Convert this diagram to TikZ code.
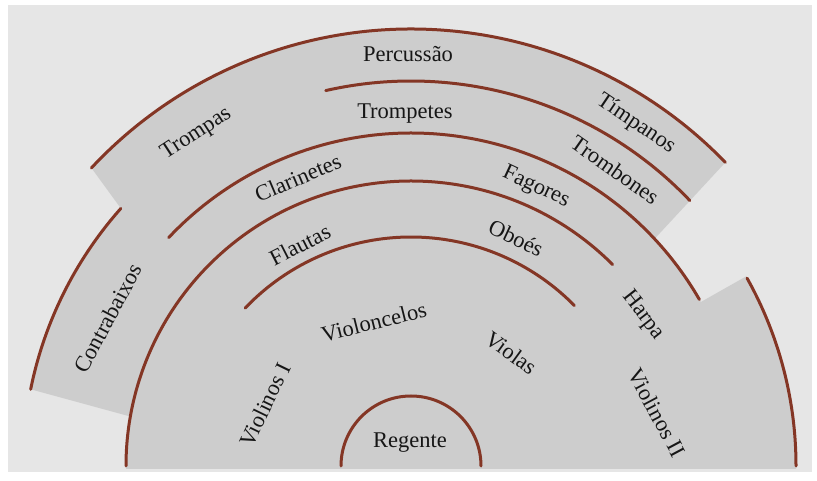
\documentclass[tikz,border=0pt]{standalone}
\usepackage{fontspec}
\setmainfont{Liberation Serif}
\definecolor{bgc}{HTML}{E6E6E6}
\definecolor{shapec}{HTML}{CDCDCD}
\definecolor{linec}{HTML}{843625}
\definecolor{txtc}{HTML}{161616}
\begin{document}
\begin{tikzpicture}[x=1pt,y=1pt,
  sep/.style={draw=linec,line width=3pt,line cap=round},
  lab/.style={text=txtc,font=\fontsize{22.5}{26}\selectfont,inner sep=0pt,text height=15pt,text depth=0pt}]
\useasboundingbox (0,0) rectangle (817,481);
\fill[white] (0,0) rectangle (817,481);
\fill[bgc] (8,9) rectangle (812,476);
\begin{scope}[shift={(411,15)}]
\fill[shapec] (-285,-3) -- (385,-3) -- (0:385) arc[start angle=0,end angle=29.5,radius=385]
  -- (29.5:333) arc[start angle=29.5,end angle=43,radius=333]
  -- (44:437) arc[start angle=44,end angle=137,radius=437]
  -- (138.4:388) arc[start angle=138.4,end angle=168.6,radius=388]
  -- (170:285) arc[start angle=170,end angle=180,radius=285] -- cycle;
\draw[sep] (44:437) arc[start angle=44,end angle=137,radius=437];
\draw[sep] (43.6:385) arc[start angle=43.6,end angle=102.8,radius=385];
\draw[sep] (30:333) arc[start angle=30,end angle=136.7,radius=333];
\draw[sep] (45:285) arc[start angle=45,end angle=180,radius=285];
\draw[sep] (44.5:229) arc[start angle=44.5,end angle=136.4,radius=229];
\draw[sep] (0:70) arc[start angle=0,end angle=180,radius=70];
\draw[sep] (0:385) arc[start angle=0,end angle=29.2,radius=385];
\draw[sep] (138.4:388) arc[start angle=138.4,end angle=168.6,radius=388];
\end{scope}
\node[lab] (perc) at (408,427) {Percussão};
\node[lab] (trompetes) at (405,369.5) {Trompetes};
\node[lab,rotate=33] (trompas) at (195,349) {Trompas};
\node[lab,rotate=23] (clarinetes) at (298,303) {Clarinetes};
\node[lab,rotate=27] (flautas) at (300,236) {Flautas};
\node[lab,rotate=-25] (fagores) at (537,296) {Fagores};
\node[lab,rotate=-34] (timpanos) at (637,359) {Tímpanos};
\node[lab,rotate=-35] (trombones) at (615,311) {Trombones};
\node[lab,rotate=-25] (oboes) at (516,243) {Oboés};
\node[lab,rotate=14] (violoncelos) at (374,159) {Violoncelos};
\node[lab,rotate=-36] (violas) at (511,128) {Violas};
\node[lab,rotate=-52] (harpa) at (645,167) {Harpa};
\node[lab,rotate=-62] (violinos2) at (657,68) {Violinos II};
\node[lab,rotate=64] (violinos1) at (265,76) {Violinos I};
\node[lab,rotate=62] (contrabaixos) at (108,163) {Contrabaixos};
\node[lab] (regente) at (410,41) {Regente};
\end{tikzpicture}
\end{document}
